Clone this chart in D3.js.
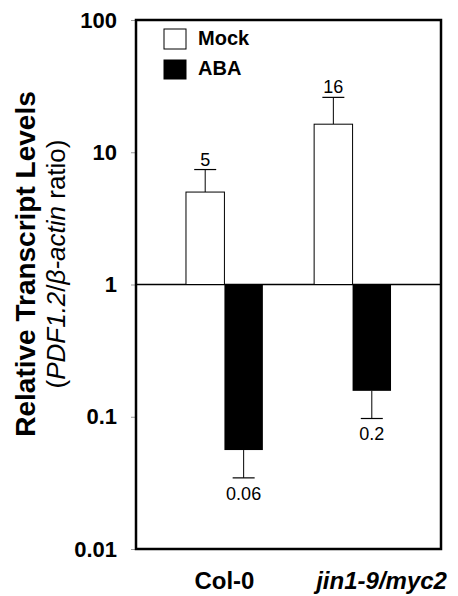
<!DOCTYPE html>
<html>
<head>
<meta charset="utf-8">
<script src="https://cdn.jsdelivr.net/npm/d3@7"></script>
<style>
  body { margin: 0; background: #fff; }
  text { font-family: "Liberation Sans", Arial, sans-serif; }
</style>
</head>
<body>
<div id="chart"></div>
<script>
// values
const groups = ['Col-0', 'jin1-9/myc2'];
const series = ['Mock', 'ABA'];
const mock = [5, 16.3];
const mockErr = [7.4, 26];      // top of error bar
const aba = [0.056, 0.157];
const abaErr = [0.0345, 0.097]; // bottom of error bar
const mockLabels = ['5', '16'];
const abaLabels = ['0.06', '0.2'];
const yTicks = [0.01, 0.1, 1, 10, 100];
const yTickLabels = ['0.01', '0.1', '1', '10', '100'];

const width = 458, height = 596;
const margin = {top: 20, right: 17, bottom: 47, left: 136};

const svg = d3.select('#chart').append('svg')
  .attr('width', width)
  .attr('height', height);

const y = d3.scaleLog().domain([0.01, 100]).range([height - margin.bottom, margin.top]);
const x = d3.scaleBand().domain(groups)
  .range([margin.left, width - margin.right])
  .paddingInner(0.4).paddingOuter(0.39);
const xs = d3.scaleBand().domain(series).range([0, x.bandwidth()]);

// y axis
svg.append('g')
  .attr('transform', `translate(${margin.left},0)`)
  .call(d3.axisLeft(y).tickValues(yTicks).tickFormat((d, i) => yTickLabels[i]).tickSize(5).tickPadding(14))
  .call(g => g.select('.domain').remove())
  .call(g => g.selectAll('line').attr('stroke', '#999'))
  .call(g => g.selectAll('text')
    .attr('font-size', 22).attr('font-weight', 'bold').attr('fill', '#000')
    .attr('font-family', '"Liberation Sans", Arial, sans-serif'));

// baseline at 1
svg.append('line')
  .attr('x1', margin.left).attr('x2', width - margin.right)
  .attr('y1', y(1)).attr('y2', y(1))
  .attr('stroke', '#000').attr('stroke-width', 1.5);

// mock bars (up from 1)
const mg = svg.append('g');
mg.selectAll('line.err').data(groups).enter().append('line')
  .attr('x1', d => x(d) + xs('Mock') + xs.bandwidth() / 2)
  .attr('x2', d => x(d) + xs('Mock') + xs.bandwidth() / 2)
  .attr('y1', (d, i) => y(mock[i]))
  .attr('y2', (d, i) => y(mockErr[i]))
  .attr('stroke', '#000').attr('stroke-width', 1);
mg.selectAll('line.cap').data(groups).enter().append('line')
  .attr('x1', d => x(d) + xs('Mock') + xs.bandwidth() / 2 - 11)
  .attr('x2', d => x(d) + xs('Mock') + xs.bandwidth() / 2 + 11)
  .attr('y1', (d, i) => y(mockErr[i]))
  .attr('y2', (d, i) => y(mockErr[i]))
  .attr('stroke', '#000').attr('stroke-width', 1.2);
mg.selectAll('rect').data(groups).enter().append('rect')
  .attr('x', d => x(d) + xs('Mock'))
  .attr('width', xs.bandwidth())
  .attr('y', (d, i) => y(mock[i]))
  .attr('height', (d, i) => y(1) - y(mock[i]))
  .attr('fill', '#fff').attr('stroke', '#000').attr('stroke-width', 1);
mg.selectAll('text').data(groups).enter().append('text')
  .attr('x', d => x(d) + xs('Mock') + xs.bandwidth() / 2)
  .attr('y', (d, i) => y(mockErr[i]) - 4)
  .attr('text-anchor', 'middle').attr('font-size', 18)
  .text((d, i) => mockLabels[i]);

// ABA bars (down from 1)
const ag = svg.append('g');
ag.selectAll('line.err').data(groups).enter().append('line')
  .attr('x1', d => x(d) + xs('ABA') + xs.bandwidth() / 2)
  .attr('x2', d => x(d) + xs('ABA') + xs.bandwidth() / 2)
  .attr('y1', (d, i) => y(aba[i]))
  .attr('y2', (d, i) => y(abaErr[i]))
  .attr('stroke', '#000').attr('stroke-width', 1);
ag.selectAll('line.cap').data(groups).enter().append('line')
  .attr('x1', d => x(d) + xs('ABA') + xs.bandwidth() / 2 - 11)
  .attr('x2', d => x(d) + xs('ABA') + xs.bandwidth() / 2 + 11)
  .attr('y1', (d, i) => y(abaErr[i]))
  .attr('y2', (d, i) => y(abaErr[i]))
  .attr('stroke', '#000').attr('stroke-width', 1.2);
ag.selectAll('rect').data(groups).enter().append('rect')
  .attr('x', d => x(d) + xs('ABA'))
  .attr('width', xs.bandwidth())
  .attr('y', y(1))
  .attr('height', (d, i) => y(aba[i]) - y(1))
  .attr('fill', '#000');
ag.selectAll('text').data(groups).enter().append('text')
  .attr('x', d => x(d) + xs('ABA') + xs.bandwidth() / 2)
  .attr('y', (d, i) => y(abaErr[i]) + 22)
  .attr('text-anchor', 'middle').attr('font-size', 18)
  .text((d, i) => abaLabels[i]);

// frame
svg.append('rect')
  .attr('x', margin.left).attr('y', margin.top)
  .attr('width', width - margin.left - margin.right)
  .attr('height', height - margin.top - margin.bottom)
  .attr('fill', 'none').attr('stroke', '#000').attr('stroke-width', 2.5);

// x labels
svg.append('text')
  .attr('x', x(groups[0]) + x.bandwidth() / 2).attr('y', height - 7)
  .attr('text-anchor', 'middle').attr('font-size', 24).attr('font-weight', 'bold')
  .text(groups[0]);
svg.append('text')
  .attr('x', x(groups[1]) + x.bandwidth() / 2 + 29).attr('y', height - 7)
  .attr('text-anchor', 'middle').attr('font-size', 24).attr('font-weight', 'bold')
  .attr('font-style', 'italic')
  .text(groups[1]);

// legend
const leg = svg.append('g').attr('transform', 'translate(164,29)');
series.forEach((s, i) => {
  leg.append('rect')
    .attr('x', 0).attr('y', i * 31)
    .attr('width', 22).attr('height', i === 0 ? 20 : 19)
    .attr('fill', i === 0 ? '#fff' : '#000')
    .attr('stroke', '#000').attr('stroke-width', 1);
  leg.append('text')
    .attr('x', 34).attr('y', i * 30 + 16)
    .attr('font-size', 20).attr('font-weight', 'bold')
    .text(s);
});

// y title
const yt = svg.append('g').attr('transform', 'translate(35,264) rotate(-90)');
yt.append('text')
  .attr('text-anchor', 'middle').attr('font-size', 28).attr('font-weight', 'bold')
  .text('Relative Transcript Levels');
const sub = yt.append('text')
  .attr('y', 30)
  .attr('text-anchor', 'middle').attr('font-size', 26);
sub.append('tspan').text('(');
sub.append('tspan').attr('font-style', 'italic').text('PDF1.2');
sub.append('tspan').text('/');
sub.append('tspan').attr('font-style', 'italic').text('β-actin');
sub.append('tspan').text(' ratio)');
</script>
</body>
</html>
